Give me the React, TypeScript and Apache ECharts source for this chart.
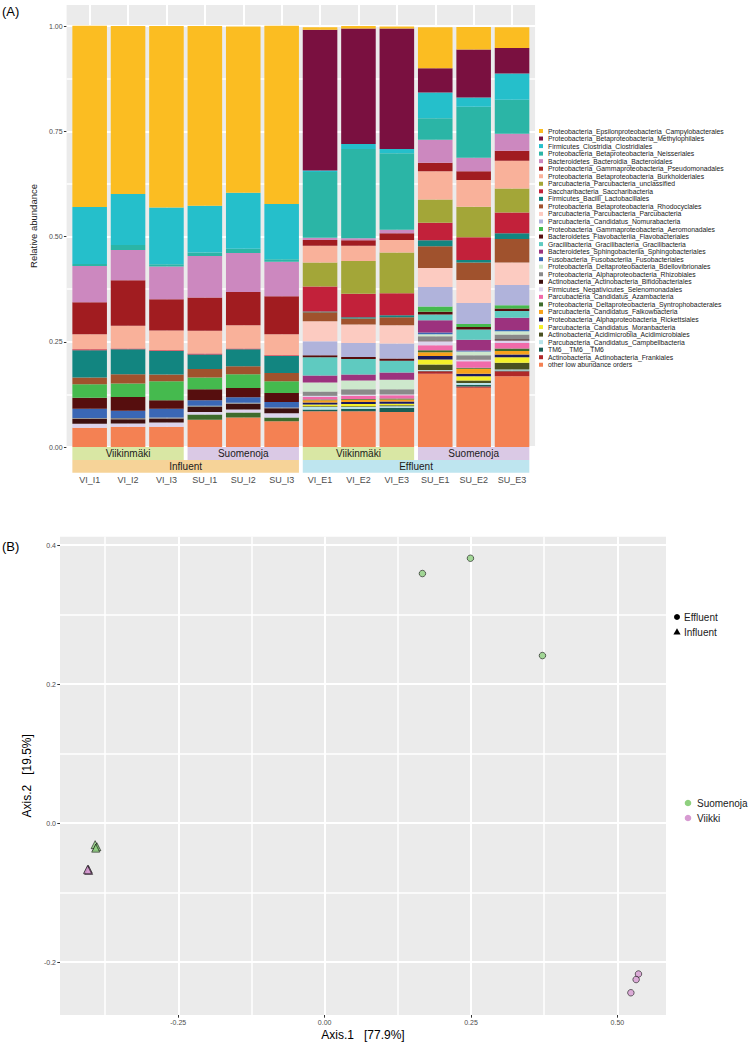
import React, { useEffect, useRef } from "react";
import * as echarts from "echarts";

const FONT = "'Liberation Sans', Arial, Helvetica, sans-serif";

// ---------- Panel A data ----------
const samples = ["VI_I1", "VI_I2", "VI_I3", "SU_I1", "SU_I2", "SU_I3", "VI_E1", "VI_E2", "VI_E3", "SU_E1", "SU_E2", "SU_E3"];

const taxa = [
  "Proteobacteria_Epsilonproteobacteria_Campylobacterales",
  "Proteobacteria_Betaproteobacteria_Methylophilales",
  "Firmicutes_Clostridia_Clostridiales",
  "Proteobacteria_Betaproteobacteria_Neisseriales",
  "Bacteroidetes_Bacteroidia_Bacteroidales",
  "Proteobacteria_Gammaproteobacteria_Pseudomonadales",
  "Proteobacteria_Betaproteobacteria_Burkholderiales",
  "Parcubacteria_Parcubacteria_unclassified",
  "Saccharibacteria_Saccharibacteria",
  "Firmicutes_Bacilli_Lactobacillales",
  "Proteobacteria_Betaproteobacteria_Rhodocyclales",
  "Parcubacteria_Parcubacteria_Parcubacteria",
  "Parcubacteria_Candidatus_Nomurabacteria",
  "Proteobacteria_Gammaproteobacteria_Aeromonadales",
  "Bacteroidetes_Flavobacteriia_Flavobacteriales",
  "Gracilibacteria_Gracilibacteria_Gracilibacteria",
  "Bacteroidetes_Sphingobacteriia_Sphingobacteriales",
  "Fusobacteria_Fusobacteriia_Fusobacteriales",
  "Proteobacteria_Deltaproteobacteria_Bdellovibrionales",
  "Proteobacteria_Alphaproteobacteria_Rhizobiales",
  "Actinobacteria_Actinobacteria_Bifidobacteriales",
  "Firmicutes_Negativicutes_Selenomonadales",
  "Parcubacteria_Candidatus_Azambacteria",
  "Proteobacteria_Deltaproteobacteria_Syntrophobacterales",
  "Parcubacteria_Candidatus_Falkowbacteria",
  "Proteobacteria_Alphaproteobacteria_Rickettsiales",
  "Parcubacteria_Candidatus_Moranbacteria",
  "Actinobacteria_Acidimicrobiia_Acidimicrobiales",
  "Parcubacteria_Candidatus_Campbellbacteria",
  "TM6__TM6__TM6",
  "Actinobacteria_Actinobacteria_Frankiales",
  "other low abundance orders",
];

const taxaColors = [
  "#FBBD22", "#7A1040", "#25BFCB", "#2BB5A6", "#CC88BF", "#A11C20", "#F9B19A", "#A3A638",
  "#C2213A", "#128580", "#A0522D", "#FCCBC1", "#B0B3DB", "#45BA4E", "#560E0E", "#5FCAC0",
  "#9C327E", "#3A67B5", "#CDE8CC", "#8A8A8A", "#3D1010", "#DCD3EC", "#F06AAA", "#3E6B2C",
  "#F7A21B", "#1B1A5E", "#F4F02A", "#4A5020", "#B8E4EA", "#1A5E55", "#B02828", "#F48153",
];

// relative abundance per sample, in legend (taxa) order
const VI_I1 = [0.431, 0, 0.135, 0.005, 0.086, 0.076, 0.036, 0, 0.002, 0.065, 0.016, 0, 0, 0.032, 0.026, 0, 0, 0.022, 0, 0.002, 0.012, 0.009, 0, 0, 0, 0, 0, 0, 0, 0, 0, 0.046];
const VI_I2 = [0.399, 0, 0.121, 0.012, 0.072, 0.108, 0.054, 0, 0.002, 0.059, 0.022, 0, 0, 0.032, 0.033, 0, 0, 0.017, 0, 0.003, 0.010, 0.008, 0, 0, 0, 0, 0, 0, 0, 0, 0, 0.048];
const VI_I3 = [0.431, 0, 0.135, 0.005, 0.078, 0.074, 0.047, 0, 0.002, 0.056, 0.016, 0, 0, 0.045, 0.020, 0, 0, 0.021, 0, 0.002, 0.010, 0.010, 0, 0, 0, 0, 0, 0, 0, 0, 0, 0.048];
const SU_I1 = [0.427, 0, 0.111, 0.008, 0.099, 0.079, 0.054, 0, 0.002, 0.035, 0.020, 0, 0, 0.028, 0.026, 0, 0, 0.013, 0, 0.003, 0.012, 0.006, 0, 0.012, 0, 0, 0, 0, 0, 0, 0, 0.065];
const SU_I2 = [0.395, 0, 0.133, 0.010, 0.093, 0.079, 0.055, 0, 0.002, 0.040, 0.019, 0, 0, 0.033, 0.022, 0, 0, 0.013, 0, 0.002, 0.014, 0.007, 0, 0.012, 0, 0, 0, 0, 0, 0, 0, 0.070];
const SU_I3 = [0.424, 0, 0.131, 0.006, 0.082, 0.090, 0.050, 0, 0.002, 0.040, 0.020, 0, 0, 0.028, 0.021, 0, 0, 0.013, 0, 0.002, 0.012, 0.010, 0, 0.009, 0, 0, 0, 0, 0, 0, 0, 0.061];
const VI_E1 = [0.006, 0.334, 0.004, 0.156, 0.005, 0.014, 0.040, 0.057, 0.059, 0.002, 0.021, 0.048, 0.033, 0, 0.005, 0.043, 0.017, 0, 0.021, 0.010, 0.001, 0.002, 0.006, 0.002, 0.005, 0.005, 0.004, 0.002, 0.006, 0.004, 0, 0.085];
const VI_E2 = [0.006, 0.274, 0.012, 0.212, 0.005, 0.013, 0.036, 0.078, 0.056, 0.003, 0.014, 0.044, 0.033, 0, 0.005, 0.037, 0.014, 0, 0.021, 0.013, 0, 0.002, 0.008, 0.002, 0.005, 0.005, 0.005, 0.002, 0.004, 0.006, 0, 0.085];
const VI_E3 = [0.005, 0.286, 0.010, 0.182, 0.008, 0.016, 0.030, 0.097, 0.052, 0.005, 0.019, 0.043, 0.036, 0, 0.005, 0.028, 0.017, 0, 0.023, 0.012, 0, 0.002, 0.008, 0.002, 0.005, 0.005, 0.004, 0.002, 0.004, 0.010, 0, 0.083];
const SU_E1 = [0.097, 0.058, 0.061, 0.051, 0.055, 0.020, 0.067, 0.055, 0.042, 0.014, 0.052, 0.045, 0.046, 0.013, 0.006, 0.014, 0.029, 0.004, 0.005, 0.010, 0.002, 0.009, 0.012, 0.005, 0.009, 0.008, 0.012, 0.013, 0.002, 0.001, 0.006, 0.174];
const SU_E2 = [0.054, 0.114, 0.022, 0.121, 0.032, 0.021, 0.063, 0.073, 0.054, 0.006, 0.041, 0.055, 0.050, 0.007, 0.006, 0.024, 0.026, 0.002, 0.009, 0.010, 0.001, 0.003, 0.016, 0.002, 0.012, 0.006, 0.010, 0.006, 0.004, 0.004, 0.003, 0.141];
const SU_E3 = [0.049, 0.061, 0.062, 0.081, 0.040, 0.024, 0.066, 0.057, 0.049, 0.014, 0.056, 0.053, 0.048, 0.008, 0.006, 0.016, 0.029, 0.003, 0.008, 0.011, 0.003, 0.006, 0.013, 0.006, 0.008, 0.007, 0.013, 0.016, 0.002, 0.002, 0.012, 0.168];
const sampleValues = [VI_I1, VI_I2, VI_I3, SU_I1, SU_I2, SU_I3, VI_E1, VI_E2, VI_E3, SU_E1, SU_E2, SU_E3];

const yTicksA = [0, 0.25, 0.5, 0.75, 1];
const yMinorA = [0.125, 0.375, 0.625, 0.875];

const siteStrips = ["Viikinmäki", "Suomenoja", "Viikinmäki", "Suomenoja"];
const siteStripColors = ["#d9e7a4", "#dac9e5", "#d9e7a4", "#dac9e5"];
const typeStrips = ["Influent", "Effluent"];
const typeStripColors = ["#f6d398", "#bee5ef"];

// ---------- Panel B data (PCoA) ----------
const suomenojaEffluent = [[0.167, 0.359], [0.249, 0.381], [0.372, 0.241]];
const viikkiEffluent = [[0.536, -0.217], [0.532, -0.225], [0.523, -0.244]];
const suomenojaInfluent = [[-0.392, -0.031], [-0.389, -0.034], [-0.391, -0.036]];
const viikkiInfluent = [[-0.404, -0.066], [-0.403, -0.068], [-0.405, -0.067]];
const xTicksB = [-0.25, 0, 0.25, 0.5];
const xMinorB = [-0.375, -0.125, 0.125, 0.375];
const yTicksB = [-0.2, 0, 0.2, 0.4];
const yMinorB = [-0.1, 0.1, 0.3];
const siteColors = { Suomenoja: "#8fd07f", Viikki: "#d79bd2" };

// layout constants
const U = 38.4;
const L0 = 70.45;
const TOPA = 5;
const HA = 442;
const STRIP_H = 12.9;
const MAJOR_W = 2.0;
const MINOR_W = 1.5;

const near = (v: number, arr: number[]) => arr.some((t) => Math.abs(t - v) < 1e-6);

const gridLineSeries = (name: string, xAxisIndex: number, yAxisIndex: number, width: number, xs: number[], ys: number[]) => ({
  name,
  type: "scatter",
  xAxisIndex,
  yAxisIndex,
  data: [],
  silent: true,
  z: 1,
  markLine: {
    silent: true,
    symbol: ["none", "none"],
    label: { show: false },
    emphasis: { disabled: true },
    animation: false,
    z: 1,
    precision: 6,
    lineStyle: { color: "#ffffff", width, type: "solid", opacity: 1 },
    data: [...xs.map((v) => ({ xAxis: v })), ...ys.map((v) => ({ yAxis: v }))],
  },
});

export default function App() {
  const ref = useRef<HTMLDivElement>(null);
  useEffect(() => {
    const el = ref.current!;
    const chart = echarts.init(el, null, { renderer: "svg" });

    const barSeries = taxa
      .map((name, k) => ({
        name,
        type: "bar",
        stack: "total",
        xAxisIndex: 0,
        yAxisIndex: 0,
        barWidth: "90%",
        silent: true,
        itemStyle: { color: taxaColors[k] },
        emphasis: { disabled: true },
        data: sampleValues.map((arr) => arr[k]),
        z: 3,
      }))
      .reverse();

    const scatterCommon = {
      type: "scatter",
      xAxisIndex: 1,
      yAxisIndex: 2,
      silent: true,
      z: 5,
    };

    const tickStyle = { color: "#333333", width: 1 };
    const labelStyle = { fontSize: 7, color: "#4d4d4d", fontFamily: FONT };
    const hiddenLine = { show: false, onZero: false };

    const option: any = {
      animation: false,
      backgroundColor: "#ffffff",
      textStyle: { fontFamily: FONT },
      grid: [
        { left: L0, top: TOPA, width: 12 * U, height: HA, show: false },
        { left: L0 - 0.1 * U, top: TOPA, width: 12.2 * U, height: HA, show: true, backgroundColor: "#EBEBEB", borderWidth: 0 },
        { left: 60, top: 536.7, width: 606, height: 478.3, show: true, backgroundColor: "#EBEBEB", borderWidth: 0 },
      ],
      legend: {
        orient: "vertical",
        left: 539,
        top: 127.5,
        padding: 0,
        itemWidth: 4,
        itemHeight: 4,
        itemGap: 0.54,
        icon: "rect",
        selectedMode: false,
        data: taxa,
        textStyle: { fontSize: 6.8, lineHeight: 6.8, color: "#1a1a1a", fontFamily: FONT },
      },
      xAxis: [
        {
          gridIndex: 0,
          type: "category",
          data: samples,
          axisLine: { show: false },
          axisTick: { show: false },
          splitLine: { show: false },
          axisLabel: { interval: 0, margin: 28, fontSize: 9, color: "#4d4d4d", fontFamily: FONT },
        },
        {
          gridIndex: 2,
          type: "value",
          min: -0.452,
          max: 0.583,
          minInterval: 0.25,
          maxInterval: 0.25,
          axisLine: hiddenLine,
          axisTick: { show: true, length: 2.7, lineStyle: tickStyle, customValues: xTicksB },
          axisLabel: {
            ...labelStyle,
            margin: 4,
            customValues: xTicksB,
            formatter: (v: number) => (near(v, xTicksB) ? v.toFixed(2) : ""),
          },
          splitLine: { show: false },
          name: "Axis.1   [77.9%]",
          nameLocation: "middle",
          nameGap: 14,
          nameTextStyle: { fontSize: 12, color: "#000000", verticalAlign: "top", fontFamily: FONT },
        },
        {
          // sample index scale spanning the whole grey panel of (A)
          gridIndex: 1,
          type: "value",
          min: -0.6,
          max: 11.6,
          show: false,
          splitLine: { show: false },
        },
      ],
      yAxis: [
        { gridIndex: 0, type: "value", min: 0, max: 1.05, show: false, splitLine: { show: false } },
        {
          gridIndex: 1,
          type: "value",
          min: 0,
          max: 1.05,
          interval: 0.25,
          axisLine: hiddenLine,
          axisTick: { show: true, length: 2.7, lineStyle: tickStyle, customValues: yTicksA },
          axisLabel: {
            ...labelStyle,
            margin: 4,
            customValues: yTicksA,
            formatter: (v: number) => (near(v, yTicksA) ? v.toFixed(2) : ""),
          },
          splitLine: { show: false },
          name: "Relative abundance",
          nameLocation: "middle",
          nameGap: 22,
          nameTextStyle: { fontSize: 9.5, color: "#1a1a1a", fontFamily: FONT },
        },
        {
          gridIndex: 2,
          type: "value",
          min: -0.276,
          max: 0.412,
          minInterval: 0.2,
          maxInterval: 0.2,
          axisLine: hiddenLine,
          axisTick: { show: true, length: 2.7, lineStyle: tickStyle, customValues: yTicksB },
          axisLabel: {
            ...labelStyle,
            margin: 4,
            customValues: yTicksB,
            formatter: (v: number) => (near(v, yTicksB) ? v.toFixed(1) : ""),
          },
          splitLine: { show: false },
          name: "Axis.2   [19.5%]",
          nameLocation: "middle",
          nameGap: 23,
          nameTextStyle: { fontSize: 12, color: "#000000", fontFamily: FONT },
        },
      ],
      series: [
        // panel A background grid lines
        gridLineSeries("gridA-minor", 2, 1, MINOR_W, [], yMinorA),
        gridLineSeries("gridA-major", 2, 1, MAJOR_W, samples.map((s, i) => i), yTicksA),
        // panel B background grid lines
        gridLineSeries("gridB-minor", 1, 2, MINOR_W, xMinorB, yMinorB),
        gridLineSeries("gridB-major", 1, 2, MAJOR_W, xTicksB, yTicksB),
        ...barSeries,
        {
          ...scatterCommon,
          name: "Suomenoja Influent",
          symbol: "triangle",
          symbolSize: 8,
          itemStyle: { color: siteColors.Suomenoja, borderColor: "#000", borderWidth: 0.7 },
          data: suomenojaInfluent,
        },
        {
          ...scatterCommon,
          name: "Viikki Influent",
          symbol: "triangle",
          symbolSize: 8,
          itemStyle: { color: siteColors.Viikki, borderColor: "#000", borderWidth: 0.7 },
          data: viikkiInfluent,
        },
        {
          ...scatterCommon,
          name: "Suomenoja Effluent",
          symbol: "circle",
          symbolSize: 6.5,
          itemStyle: { color: siteColors.Suomenoja, borderColor: "#000", borderWidth: 0.7 },
          data: suomenojaEffluent,
        },
        {
          ...scatterCommon,
          name: "Viikki Effluent",
          symbol: "circle",
          symbolSize: 6.5,
          itemStyle: { color: siteColors.Viikki, borderColor: "#000", borderWidth: 0.7 },
          data: viikkiEffluent,
        },
      ],
    };

    chart.setOption(option);

    // facet strips positioned from the category axis
    const xs = samples.map((s) => chart.convertToPixel({ xAxisIndex: 0 }, s) as number);
    const band = xs[1] - xs[0];
    const halfBar = band * 0.45;
    const y0 = chart.convertToPixel({ yAxisIndex: 0 }, 0) as number;
    const graphics: any[] = [];
    siteStrips.forEach((label, g) => {
      const a = xs[g * 3] - halfBar;
      const b = xs[g * 3 + 2] + halfBar;
      graphics.push({ type: "rect", z: 10, shape: { x: a, y: y0, width: b - a, height: STRIP_H }, style: { fill: siteStripColors[g] } });
      graphics.push({
        type: "text", z: 11, x: (a + b) / 2, y: y0 + STRIP_H / 2 + 0.5,
        style: { text: label, fontSize: 10, fill: "#1a1a1a", align: "center", verticalAlign: "middle", fontFamily: FONT },
      });
    });
    typeStrips.forEach((label, g) => {
      const a = xs[g * 6] - halfBar;
      const b = xs[g * 6 + 5] + halfBar;
      graphics.push({ type: "rect", z: 10, shape: { x: a, y: y0 + STRIP_H, width: b - a, height: STRIP_H }, style: { fill: typeStripColors[g] } });
      graphics.push({
        type: "text", z: 11, x: (a + b) / 2, y: y0 + STRIP_H * 1.5 + 0.5,
        style: { text: label, fontSize: 10, fill: "#1a1a1a", align: "center", verticalAlign: "middle", fontFamily: FONT },
      });
    });

    // panel tags
    graphics.push({ type: "text", x: 2, y: 5, style: { text: "(A)", fontSize: 13, fill: "#000", fontFamily: FONT } });
    graphics.push({ type: "text", x: 2, y: 540, style: { text: "(B)", fontSize: 13, fill: "#000", fontFamily: FONT } });

    // panel B legends
    const lgX = 677;
    graphics.push({ type: "circle", shape: { cx: lgX, cy: 617, r: 3 }, style: { fill: "#000" } });
    graphics.push({ type: "text", x: lgX + 7, y: 617, style: { text: "Effluent", fontSize: 10, fill: "#1a1a1a", verticalAlign: "middle", fontFamily: FONT } });
    graphics.push({ type: "polygon", shape: { points: [[lgX, 628.3], [lgX - 3.6, 634.6], [lgX + 3.6, 634.6]] }, style: { fill: "#000" } });
    graphics.push({ type: "text", x: lgX + 7, y: 632, style: { text: "Influent", fontSize: 10, fill: "#1a1a1a", verticalAlign: "middle", fontFamily: FONT } });
    const lcX = 688;
    graphics.push({ type: "circle", shape: { cx: lcX, cy: 803, r: 3.3 }, style: { fill: siteColors.Suomenoja } });
    graphics.push({ type: "text", x: lcX + 9, y: 803, style: { text: "Suomenoja", fontSize: 10, fill: "#1a1a1a", verticalAlign: "middle", fontFamily: FONT } });
    graphics.push({ type: "circle", shape: { cx: lcX, cy: 818, r: 3.3 }, style: { fill: siteColors.Viikki } });
    graphics.push({ type: "text", x: lcX + 9, y: 818, style: { text: "Viikki", fontSize: 10, fill: "#1a1a1a", verticalAlign: "middle", fontFamily: FONT } });

    chart.setOption({ graphic: graphics });

    return () => chart.dispose();
  }, []);

  return <div ref={ref} style={{ position: "absolute", left: 0, top: 0, width: 755, height: 1044, background: "#fff" }} />;
}
